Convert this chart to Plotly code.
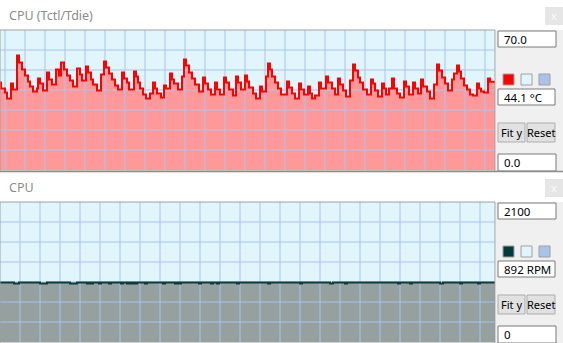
import numpy as np
import plotly.graph_objects as go

# ---------------- data ----------------
# CPU (Tctl/Tdie) temperature readings (deg C) and how many polling ticks each reading was held
temp_values = [43.8, 40.8, 38.8, 35.8, 43.3, 40.3, 57.3, 53.8, 50.3, 47.3, 44.3, 41.8, 39.3, 40.8,
               45.8, 43.3, 39.8, 48.8, 45.3, 42.8, 50.3, 47.3, 53.8, 50.3, 47.3, 44.8, 41.8, 50.8,
               47.8, 44.8, 51.8, 48.8, 45.3, 42.8, 39.8, 47.8, 54.3, 51.3, 48.3, 45.3, 42.3, 40.3,
               48.8, 45.8, 43.8, 40.3, 49.3, 46.8, 43.8, 40.8, 37.8, 35.8, 38.3, 43.8, 40.8, 38.3,
               36.3, 42.3,
               40.8, 48.3, 45.3, 43.3, 40.3, 46.8, 55.3, 52.3, 48.8, 45.8, 42.8, 39.3, 46.3, 43.3,
               40.3, 37.8, 43.8, 40.3, 37.8, 46.3, 43.8, 40.3, 37.3, 46.8, 43.8, 40.3, 47.3, 44.3,
               41.3, 38.3, 35.8, 41.8, 39.3, 46.8, 53.3, 50.3, 46.8, 43.8, 40.8, 37.8, 44.3, 41.3,
               38.3, 35.8, 43.3, 40.3, 37.8, 41.8, 38.3, 35.8, 37.3, 43.8, 40.8, 46.8, 43.8,
               40.8, 37.8, 45.8, 42.8, 39.8, 36.8, 44.8, 52.8, 49.8, 46.3, 43.8, 40.3, 37.8, 45.3,
               43.3, 39.8, 36.8, 43.3, 40.8, 37.8, 40.8, 45.8, 40.8, 38.3, 36.3, 44.3, 41.8, 37.8,
               43.8, 40.8, 38.3, 45.3, 41.8, 39.3, 35.8, 42.8, 52.8, 49.8, 46.3, 43.3, 39.8, 45.3,
               48.3, 52.3, 49.3, 45.8, 42.3, 40.3, 37.8, 37.3, 43.3, 40.8, 39.3, 38.8, 45.8, 44.1]
temp_holds = [1, 4, 2, 4, 2, 4, 2, 3, 3, 3, 2, 3, 4, 1,
              2, 3, 4, 2, 3, 4, 3, 2, 3, 3, 3, 3, 4, 3,
              2, 4, 2, 3, 2, 4, 4, 3, 2, 3, 3, 3, 3, 4,
              2, 3, 2, 5, 2, 2, 2, 3, 3, 4, 3, 2, 2, 4,
              3, 2,
              4, 2, 2, 4, 4, 2, 2, 3, 3, 3, 4, 4, 2, 3,
              3, 4, 2, 3, 4, 2, 3, 4, 3, 2, 3, 4, 2, 2,
              4, 3, 4, 2, 4, 2, 2, 2, 3, 3, 3, 6, 2, 3,
              3, 4, 2, 3, 4, 2, 2, 3, 4, 2, 5, 2, 4,
              3, 3, 2, 3, 3, 4, 3, 2, 3, 2, 3, 4, 4, 2,
              2, 3, 4, 2, 2, 3, 3, 2, 3, 3, 4, 2, 3, 4,
              2, 3, 3, 2, 4, 3, 4, 3, 2, 3, 3, 3, 4, 2,
              3, 2, 2, 3, 3, 3, 3, 4, 2, 2, 3, 4, 2, 5]

# CPU fan speed readings (RPM) and hold lengths
rpm_values = [892, 877, 892, 877, 892, 877, 892, 877, 892, 877, 892, 877, 892, 877,
              892, 877, 892, 877, 892, 877, 892, 877, 892, 877, 892, 877, 892, 877,
              892, 877, 892, 877, 892, 877, 892, 877, 892, 877, 892, 877, 892, 877,
              892, 877, 892, 877, 892, 877, 892, 877, 892, 877, 892, 877, 892, 877, 892]
rpm_holds = [14, 5, 21, 7, 23, 7, 10, 2, 2, 2, 6, 2, 8, 2,
             10, 2, 4, 2, 2, 2, 2, 2, 8, 2, 16, 2, 10, 2,
             2, 2, 18, 2, 10, 2, 4, 2, 18, 2, 29, 2, 30, 2,
             28, 3, 12, 2, 51, 2, 10, 2, 28, 3, 17, 2, 16, 2, 15]

temp_range = [0, 70]
rpm_range = [0, 2100]
temp_title = "CPU (Tctl/Tdie)"
rpm_title = "CPU"
temp_max_label, temp_cur_label, temp_min_label = "70.0", "44.1 °C", "0.0"
rpm_max_label, rpm_cur_label, rpm_min_label = "2100", "892 RPM", "0"

# ---------------- styling ----------------
W, H = 563, 343
PLOT_W = 495
BG_PLOT = "#e0f6fc"
GRID = "#a9c4ec"
PANEL = "#f0f0f0"
FONT = "Noto Sans, Open Sans, sans-serif"


def px(x):
    return x / W


def py(y):
    return 1 - y / H


def expand(vals, holds):
    v = np.repeat(np.array(vals, dtype=float), holds)
    x = np.arange(len(v) + 1)
    y = np.append(v, v[-1])
    return x, y


tx, ty = expand(temp_values, temp_holds)
rx, ry = expand(rpm_values, rpm_holds)


def grid_xy(vx, hy, yr):
    gx, gy = [], []
    for v in vx:
        gx += [v, v, None]
        gy += [yr[0], yr[1], None]
    for h in hy:
        gx += [0, PLOT_W, None]
        gy += [h, h, None]
    return gx, gy


fig = go.Figure()

# top panel: fill, grid, line
fig.add_trace(go.Scatter(x=tx, y=ty, mode="lines", line=dict(width=0, color="rgba(0,0,0,0)", shape="hv"),
                         fill="tozeroy", fillcolor="#ff9999", hoverinfo="skip", showlegend=False,
                         xaxis="x", yaxis="y"))
gx, gy = grid_xy(np.arange(5, PLOT_W, 20), np.arange(10, 70, 10), temp_range)
fig.add_trace(go.Scatter(x=gx, y=gy, mode="lines", line=dict(color=GRID, width=1), hoverinfo="skip",
                         showlegend=False, xaxis="x", yaxis="y"))
fig.add_trace(go.Scatter(x=tx, y=ty, mode="lines", line=dict(width=2, color="#ff0000", shape="hv"),
                         hoverinfo="skip", showlegend=False, xaxis="x", yaxis="y"))

# bottom panel
fig.add_trace(go.Scatter(x=rx, y=ry, mode="lines", line=dict(width=0, color="rgba(0,0,0,0)", shape="hv"),
                         fill="tozeroy", fillcolor="#96a09e", hoverinfo="skip", showlegend=False,
                         xaxis="x2", yaxis="y2"))
gx2, gy2 = grid_xy(np.arange(20, PLOT_W, 20), np.arange(300, 2100, 300), rpm_range)
fig.add_trace(go.Scatter(x=gx2, y=gy2, mode="lines", line=dict(color=GRID, width=1), hoverinfo="skip",
                         showlegend=False, xaxis="x2", yaxis="y2"))
fig.add_trace(go.Scatter(x=rx, y=ry, mode="lines", line=dict(width=2, color="#0c3c3c", shape="hv"),
                         hoverinfo="skip", showlegend=False, xaxis="x2", yaxis="y2"))

ax_common = dict(showgrid=False, zeroline=False, showticklabels=False, showline=False,
                 ticks="", fixedrange=True)
fig.update_layout(
    width=W, height=H, autosize=False,
    margin=dict(l=0, r=0, t=0, b=0, pad=0),
    paper_bgcolor="#ffffff", plot_bgcolor=BG_PLOT,
    xaxis=dict(domain=[0, px(PLOT_W)], range=[0, PLOT_W], anchor="y", **ax_common),
    yaxis=dict(domain=[py(170), py(30)], range=temp_range, anchor="x", **ax_common),
    xaxis2=dict(domain=[0, px(PLOT_W)], range=[0, PLOT_W], anchor="y2", **ax_common),
    yaxis2=dict(domain=[py(342), py(202)], range=rpm_range, anchor="x2", **ax_common),
    showlegend=False,
)

shapes = []
annots = []


def rect(x0, y0, x1, y1, fill, line=None, lw=1, layer="below"):
    shapes.append(dict(type="rect", xref="paper", yref="paper", x0=px(x0), x1=px(x1), y0=py(y1), y1=py(y0),
                       fillcolor=fill, line=dict(color=line or "rgba(0,0,0,0)", width=lw if line else 0),
                       layer=layer))


def text(x, y, s, size=11.5, color="#000000", anchor="left"):
    annots.append(dict(xref="paper", yref="paper", x=px(x), y=py(y), text=s, showarrow=False,
                       xanchor=anchor, yanchor="middle", font=dict(family=FONT, size=size, color=color)))


def panel(top, title, max_lbl, cur_lbl, min_lbl, swatch):
    # right control area
    rect(496, top + 30, W, top + 172, PANEL)
    # close box
    rect(545, top + 7, W, top + 25, "#e6e6e6")
    text(554, top + 15.5, "x", size=11, color="#fbfbfb", anchor="center")
    # title
    text(7, top + 15, title, size=12.5, color="#8c8c8c")
    # plot border
    rect(0, top + 30, PLOT_W, top + 171, "rgba(0,0,0,0)", line="#a0a0a0", lw=1, layer="above")
    # value boxes
    rect(498, top + 31, 556, top + 47, "#ffffff", line="#7a7a7a", layer="above")
    text(502, top + 39.5, max_lbl)
    rect(498, top + 89, 555, top + 105, "#ffffff", line="#7a7a7a", layer="above")
    text(502, top + 97.5, cur_lbl)
    rect(498, top + 154, 556, top + 171, "#ffffff", line="#7a7a7a", layer="above")
    text(502, top + 162.5, min_lbl)
    # swatches
    for i, c in enumerate([swatch, BG_PLOT, GRID]):
        rect(503 + 18 * i, top + 74, 514 + 18 * i, top + 85, c, line="#a0a0a0", layer="above")
    # buttons
    rect(498, top + 123, 525, top + 142, "#e1e1e1", line="#adadad", layer="above")
    text(511.5, top + 132.5, "Fit y", size=11, anchor="center")
    rect(527, top + 123, 555, top + 142, "#e1e1e1", line="#adadad", layer="above")
    text(541, top + 132.5, "Reset", size=11, anchor="center")


panel(0, temp_title, temp_max_label, temp_cur_label, temp_min_label, "#ff0000")
panel(172, rpm_title, rpm_max_label, rpm_cur_label, rpm_min_label, "#003c3c")

# separator between panels
shapes.append(dict(type="line", xref="paper", yref="paper", x0=0, x1=1, y0=py(171.5), y1=py(171.5),
                   line=dict(color="#8c8c8c", width=1.5), layer="above"))

fig.update_layout(shapes=shapes, annotations=annots)
fig.write_html("out.html")
